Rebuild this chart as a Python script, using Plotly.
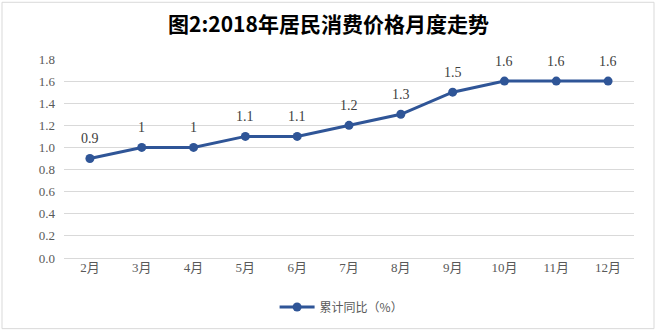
import plotly.graph_objects as go

months = ["2月", "3月", "4月", "5月", "6月", "7月", "8月", "9月", "10月", "11月", "12月"]
values = [0.9, 1.0, 1.0, 1.1, 1.1, 1.2, 1.3, 1.5, 1.6, 1.6, 1.6]
labels = ["0.9", "1", "1", "1.1", "1.1", "1.2", "1.3", "1.5", "1.6", "1.6", "1.6"]
y_ticks = [0.0, 0.2, 0.4, 0.6, 0.8, 1.0, 1.2, 1.4, 1.6, 1.8]
series_name = "累计同比（%）"
title = "图2:2018年居民消费价格月度走势"

serif = "'Liberation Serif', 'Noto Sans CJK SC', serif"
tick_font = dict(family=serif, size=13, color="#595959")

fig = go.Figure()
fig.add_trace(go.Scatter(
    x=months, y=values, mode="lines+markers",
    name=series_name,
    line=dict(color="#2F5597", width=3),
    marker=dict(color="#2F5597", size=9),
    cliponaxis=False,
))

for m, v, t in zip(months, values, labels):
    fig.add_annotation(x=m, y=v, text=t, showarrow=False, yshift=20,
                       font=dict(family=serif, size=14, color="#404040"))

fig.update_layout(
    width=657, height=332,
    margin=dict(l=64, r=23, t=59, b=73),
    paper_bgcolor="white", plot_bgcolor="white",
    title=dict(text="<b>" + title + "</b>", x=0.5, xanchor="center", y=1 - 25/332, yanchor="middle",
               font=dict(family="Noto Sans CJK SC", size=21, color="#000000")),
    xaxis=dict(type="category", range=[-0.5, len(months) - 0.5], showgrid=False,
               showline=False, ticks="", tickfont=tick_font, fixedrange=True),
    yaxis=dict(range=[0, 1.8], tickvals=y_ticks, ticktext=[f"{v:.1f}" for v in y_ticks],
               showgrid=True, gridcolor="#D9D9D9", gridwidth=1, zeroline=True,
               zerolinecolor="#D9D9D9", zerolinewidth=1, showline=False, ticks="",
               tickfont=tick_font, ticklabelstandoff=8, fixedrange=True),
    showlegend=True,
    legend=dict(orientation="h", x=0.487, xanchor="center", y=-0.24, yanchor="middle",
                font=dict(family="Noto Sans CJK SC", size=12, color="#595959"),
                itemwidth=35),
    shapes=[dict(type="rect", xref="paper", yref="paper", x0=-62/570, x1=1 + 20/570,
                 y0=-71/200, y1=1 + 57/200, line=dict(color="#D9D9D9", width=1))],
)

fig.write_html("out.html")
